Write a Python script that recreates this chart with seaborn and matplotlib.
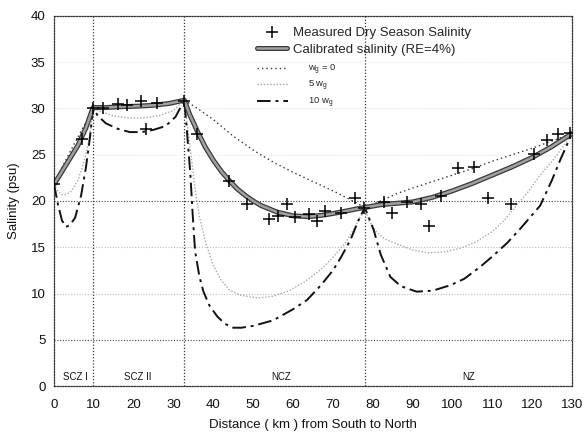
import matplotlib
matplotlib.use("Agg")
import matplotlib.pyplot as plt
import seaborn as sns
import pandas as pd
from matplotlib import patheffects as pe
from matplotlib.lines import Line2D

# ---------------- data ----------------
meas_km = [0, 7.0, 9.8, 12.3, 16.0, 18.4, 21.8, 23.1, 25.8, 32.5, 35.9, 44.0,
           48.5, 54.0, 56.3, 58.5, 60.6, 64.1, 66.1, 68.1, 72.1, 75.6, 77.9,
           82.9, 84.9, 88.7, 92.0, 94.2, 97.2, 101.5, 105.5, 108.8, 114.6,
           120.4, 123.6, 126.4, 129.6]
meas_sal = [21.8, 26.7, 30.05, 30.05, 30.5, 30.4, 30.8, 27.8, 30.6, 30.8, 27.2, 22.2,
            19.7, 18.05, 18.4, 19.7, 18.3, 18.6, 17.8, 18.9, 18.7, 20.3, 19.2,
            19.9, 18.7, 19.9, 19.7, 17.3, 20.5, 23.6, 23.7, 20.3, 19.7,
            25.1, 26.6, 27.2, 27.35]

cal_km = [0, 2, 4, 6, 8, 9.8, 13, 17, 21, 25, 29, 32.7, 34, 36, 38, 40, 42, 44, 46,
          48, 50, 52, 56, 60, 64, 68, 72, 76, 78, 82, 86, 90, 95, 100, 105, 110,
          115, 120, 125, 130]
cal_sal = [21.8, 23.2, 24.6, 26.0, 27.9, 30.1, 30.1, 30.2, 30.25, 30.35, 30.55, 30.9,
           29.4, 27.5, 25.8, 24.4, 23.2, 22.2, 21.3, 20.6, 20.0, 19.5, 18.8, 18.4,
           18.3, 18.5, 18.8, 19.15, 19.3, 19.6, 19.75, 19.9, 20.4, 21.1, 21.9, 22.8,
           23.7, 24.7, 25.9, 27.3]

w0_km = [0, 2, 4, 6, 8, 9.8, 15, 21, 27, 32.7, 36, 40, 45, 50, 55, 60, 65, 70, 75,
         78, 82, 86, 90, 95, 100, 105, 110, 115, 120, 125, 130]
w0_sal = [21.8, 23.6, 25.3, 26.9, 28.5, 30.1, 30.2, 30.35, 30.55, 30.9, 30.0, 28.8,
          27.0, 25.5, 24.2, 23.1, 22.1, 21.1, 20.0, 19.3, 20.0, 20.8, 21.4, 22.1,
          22.8, 23.5, 24.3, 25.0, 25.7, 26.5, 27.3]

w5_km = [0, 1, 2, 3, 4, 5, 6, 7, 8, 9, 9.8, 12, 15, 18, 21, 24, 27, 30, 32.7,
         33.5, 34.5, 35.5, 36.5, 38, 40, 42, 44, 47, 51, 55, 59, 63, 67, 70, 73,
         75, 77, 78, 79, 81, 83, 87, 90, 94, 98, 102, 106, 110, 113, 116, 119,
         122, 125, 128, 130]
w5_sal = [21.8, 21.0, 20.7, 20.7, 20.9, 21.5, 22.3, 23.5, 25.0, 27.2, 30.1, 29.6,
          29.2, 29.0, 28.95, 29.05, 29.3, 29.8, 30.9,
          28.0, 24.5, 21.0, 18.3, 15.6, 13.0, 11.4, 10.4, 9.8, 9.5, 9.7, 10.3,
          11.3, 12.6, 13.9, 15.4, 16.8, 18.4, 19.3, 17.9, 16.6, 15.9, 15.2, 14.7,
          14.4, 14.5, 14.9, 15.6, 16.7, 17.9, 19.5, 21.0, 22.8, 24.3, 26.0, 27.3]

w10_km = [0, 1, 2, 3, 4, 5.3, 6.8, 8, 9, 9.8, 11, 13, 16, 19, 22, 25, 28, 30.5,
          32.7, 33.4, 34.2, 34.8, 35.4, 36.5, 37.5, 39, 41, 43, 45, 47, 50, 55,
          60, 63.5, 67, 70, 72, 74.4, 76.4, 78, 79, 80.2, 82, 84.4, 87, 91, 95,
          99.5, 103, 107, 110, 113.8, 117, 119.6, 122, 125, 127, 130]
w10_sal = [21.8, 19.6, 17.9, 17.2, 17.4, 18.2, 20.6, 23.6, 26.8, 30.1, 29.2, 28.4,
           27.8, 27.45, 27.45, 27.7, 28.1, 29.1, 30.9, 27.3, 23.0, 18.5, 14.6,
           11.8, 10.2, 8.7, 7.5, 6.7, 6.3, 6.3, 6.5, 7.1, 8.3, 9.3, 10.9, 12.5,
           13.9, 15.8, 17.9, 19.3, 18.2, 16.9, 14.2, 11.8, 10.8, 10.2, 10.3, 10.9,
           11.6, 12.9, 14.0, 15.5, 17.0, 18.3, 19.5, 22.3, 24.4, 27.3]

zone_bounds = [9.8, 32.7, 78.0]
zone_names = ["SCZ I", "SCZ II", "NCZ", "NZ"]
zone_label_km = [5.4, 20.9, 57.0, 104.0]

legend_labels = ["Measured Dry Season Salinity", "Calibrated salinity (RE=4%)",
                 "w$_\\mathregular{g}$ = 0", "5 w$_\\mathregular{g}$", "10 w$_\\mathregular{g}$"]

# ---------------- style ----------------
sns.set_theme(style="white")
plt.rcParams["font.family"] = ["Liberation Sans", "DejaVu Sans"]
plt.rcParams["mathtext.fontset"] = "custom"
plt.rcParams["mathtext.rm"] = "Liberation Sans"

fig = plt.figure(figsize=(5.84, 4.37), dpi=100)
ax = fig.add_axes([0.0925, 0.1167, 0.8870, 0.8467])

# gridlines (scan-like: some darker, some faint)
for yv, col in [(5, "#444444"), (10, "#bbbbbb"), (15, "#bbbbbb"), (20, "#444444"),
                (25, "#e6e6e6"), (30, "#e6e6e6"), (35, "#e6e6e6")]:
    ax.axhline(yv, color=col, lw=0.8, ls=(0, (1, 1.5)), zorder=0)
for xb in zone_bounds:
    ax.axvline(xb, color="#333333", lw=0.9, ls=(0, (1, 1.5)), zorder=0)

cal_line_pe = [pe.Stroke(linewidth=3.6, foreground="#3a3a3a"), pe.Normal()]

sns.lineplot(x=w0_km, y=w0_sal, ax=ax, color="#333333", lw=1.0,
             linestyle=(0, (1, 2.2)), sort=False, estimator=None)
sns.lineplot(x=w5_km, y=w5_sal, ax=ax, color="#a8a8a8", lw=1.0,
             linestyle=(0, (1, 1.3)), sort=False, estimator=None)
sns.lineplot(x=w10_km, y=w10_sal, ax=ax, color="#111111", lw=1.4,
             linestyle=(0, (7, 2.5, 1.5, 2.5)), sort=False, estimator=None)
sns.lineplot(x=cal_km, y=cal_sal, ax=ax, color="#a0a0a0", lw=1.8,
             sort=False, estimator=None, path_effects=cal_line_pe,
             solid_joinstyle="round")
sns.scatterplot(x=meas_km, y=meas_sal, ax=ax, marker="+", s=70, color="black",
                linewidth=1.1, zorder=5)

ax.set_xlim(0, 130)
ax.set_ylim(0, 40)
ax.set_xticks(range(0, 131, 10))
ax.set_yticks(range(0, 41, 5))
ax.tick_params(axis="both", length=0, labelsize=9.5, colors="#111111")
ax.tick_params(axis="x", pad=9)
ax.tick_params(axis="y", pad=6)
for s in ax.spines.values():
    s.set_linestyle((0, (1, 1.2)))
    s.set_color("#333333")
    s.set_linewidth(0.9)

ax.set_xlabel("Distance ( km ) from South to North", fontsize=9.5, labelpad=6, color="#111111")
ax.set_ylabel("Salinity (psu)", fontsize=9.5, labelpad=8, color="#111111")

for name, xk in zip(zone_names, zone_label_km):
    ax.text(xk, 1.0, name, fontsize=7, ha="center", va="center", color="#111111")

# legends
h_meas = Line2D([], [], marker="+", ls="none", color="black", markersize=8, mew=1.1)
h_cal = Line2D([], [], color="#a0a0a0", lw=1.8, path_effects=cal_line_pe)
h_w0 = Line2D([], [], color="#333333", lw=1.0, ls=(0, (1, 2.2)))
h_w5 = Line2D([], [], color="#a8a8a8", lw=1.0, ls=(0, (1, 1.3)))
h_w10 = Line2D([], [], color="#111111", lw=1.4, ls=(0, (7, 2.5, 1.5, 2.5)))

leg1 = ax.legend([h_meas, h_cal], legend_labels[:2], loc="upper left",
                 bbox_to_anchor=(0.392, 0.970), frameon=False, fontsize=9.5,
                 handlelength=2.3, handletextpad=0.4, labelspacing=0.3,
                 borderpad=0, borderaxespad=0)
ax.add_artist(leg1)
leg2 = ax.legend([h_w0, h_w5, h_w10], legend_labels[2:], loc="upper left",
                 bbox_to_anchor=(0.392, 0.874), frameon=False, fontsize=6.8,
                 handlelength=3.3, handletextpad=2.1, labelspacing=0.25,
                 borderpad=0, borderaxespad=0)

fig.savefig("out.png", dpi=100)
